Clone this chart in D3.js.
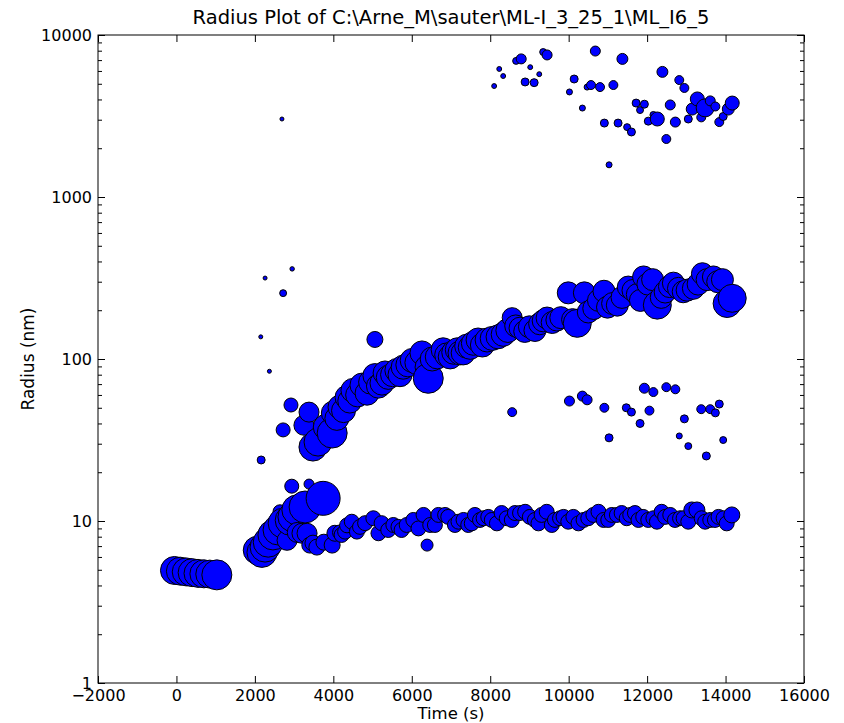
<!DOCTYPE html>
<html>
<head>
<meta charset="utf-8">
<script src="https://cdn.jsdelivr.net/npm/d3@7"></script>
<style>
  body { margin: 0; background: #fff; }
  text { font-family: "DejaVu Sans", sans-serif; fill: #000; }
</style>
</head>
<body>
<div id="chart"></div>
<script>
// Data: [time (s), radius (nm), weight]
const title = 'Radius Plot of C:\\Arne_M\\sauter\\ML-I_3_25_1\\ML_I6_5'
const xTicks = [-2000, 0, 2000, 4000, 6000, 8000, 10000, 12000, 14000, 16000]
const yTicks = [1, 10, 100, 1000, 10000]

const startPopulation = [
  [-50, 4.95, 196], [100, 4.9, 196], [250, 4.85, 196], [400, 4.8, 196],
  [550, 4.75, 196], [700, 4.72, 196], [850, 4.7, 196], [1030, 4.65, 225]
]
const risingPopulation = [
  [2060, 6.6, 196], [2180, 6.4, 225], [2260, 6.9, 225], [2340, 7.4, 225],
  [2460, 8.2, 225], [2590, 8.8, 225], [2640, 11.4, 49], [2720, 9.7, 225],
  [2820, 7.6, 100], [2900, 10.1, 225], [2940, 16.4, 49], [2970, 10.6, 225],
  [3070, 11.7, 225], [3080, 8.5, 100], [3200, 8.4, 100], [3280, 12.2, 256],
  [3330, 8.4, 100], [3380, 16.9, 25], [3400, 7.1, 64], [3480, 7.3, 64],
  [3580, 6.9, 64], [3740, 13.8, 289], [3760, 7.4, 64], [3970, 7.1, 64],
  [4040, 8.4, 64]
]
const plateauPopulation = [
  [4170, 8.5, 56], [4210, 8.2, 56], [4300, 8.6, 56], [4350, 9.4, 56], [4470, 9.9, 56],
  [4600, 8.6, 56], [4680, 9.2, 56], [4810, 9.7, 56], [5020, 10.4, 56], [5150, 8.4, 56],
  [5230, 9.7, 56], [5400, 8.8, 56], [5530, 9.45, 56], [5660, 9.2, 56], [5740, 8.8, 56],
  [5870, 9.45, 56], [6040, 10.15, 56], [6170, 9.0, 56], [6300, 10.9, 56], [6390, 7.1, 36],
  [6470, 9.45, 56], [6590, 9.45, 56], [6680, 10.9, 56], [6850, 10.9, 56], [6930, 10.6, 56],
  [7100, 9.45, 56], [7190, 9.9, 56], [7320, 10.15, 56], [7440, 9.45, 56], [7530, 9.67, 56],
  [7610, 10.9, 56], [7740, 10.15, 56], [7830, 10.4, 56], [7950, 10.6, 56], [8040, 10.15, 56],
  [8170, 9.67, 56], [8290, 11.2, 56], [8420, 10.4, 56], [8550, 10.15, 56], [8630, 11.2, 56],
  [8760, 11.2, 56], [8890, 11.4, 56], [9010, 10.6, 56], [9140, 10.15, 56], [9230, 9.67, 56],
  [9310, 10.9, 56], [9440, 11.4, 56], [9570, 9.45, 56], [9650, 10.15, 56], [9780, 10.4, 56],
  [9870, 10.6, 56], [9990, 9.9, 56], [10120, 10.6, 56], [10250, 9.67, 56], [10380, 10.15, 56],
  [10500, 10.4, 56], [10630, 10.9, 56], [10760, 11.4, 56], [10890, 10.15, 56], [11010, 10.15, 56],
  [11100, 10.9, 56], [11230, 10.9, 56], [11350, 11.2, 56], [11480, 10.4, 56], [11570, 10.9, 56],
  [11690, 11.2, 56], [11780, 10.15, 56], [11900, 10.6, 56], [12030, 10.15, 56], [12160, 10.4, 56],
  [12250, 9.9, 56], [12370, 11.4, 56], [12460, 10.6, 56], [12590, 10.9, 56], [12710, 10.15, 56],
  [12840, 10.4, 56], [12930, 10.4, 56], [13050, 9.9, 56], [13140, 11.7, 64], [13270, 11.7, 64],
  [13390, 10.4, 56], [13480, 9.9, 56], [13610, 10.15, 56], [13730, 10.15, 56], [13820, 10.6, 56],
  [13950, 10.4, 56], [14030, 9.67, 56], [14160, 10.9, 64]
]
const growthPopulation = [
  [2720, 36.5, 49], [2920, 52, 49], [3250, 39, 100], [3380, 47, 100], [3480, 28.6, 196],
  [3610, 30.7, 196], [3820, 38, 169], [3970, 34.9, 225], [4000, 46.4, 144], [4090, 43, 144],
  [4170, 50.5, 144], [4260, 48, 144], [4350, 58, 144], [4420, 55, 144], [4500, 64, 144],
  [4620, 60, 144], [4730, 69, 144], [4860, 61.5, 144], [4950, 72, 144], [5060, 79, 144],
  [5060, 132, 64], [5150, 68, 144], [5240, 71, 144], [5320, 82, 144], [5400, 77, 144],
  [5510, 80, 144], [5620, 85, 144], [5700, 80, 144], [5780, 89, 144], [5900, 92, 144],
  [6010, 98, 144], [6130, 95, 144], [6260, 109, 144], [6390, 89, 144], [6420, 76, 225],
  [6520, 100, 144], [6650, 103, 144], [6800, 114, 144], [6890, 106, 144], [6980, 103, 144],
  [7070, 110, 144], [7160, 114, 144], [7230, 109, 144], [7310, 109, 144], [7400, 120, 144],
  [7490, 118, 144], [7570, 125, 144], [7690, 131, 144], [7800, 122, 144], [7920, 131, 144],
  [8050, 134, 144], [8200, 137, 144], [8330, 142, 144], [8450, 150, 144], [8560, 180, 100],
  [8650, 160, 121], [8760, 155, 121], [8880, 148, 121], [9000, 158, 121], [9140, 150, 121],
  [9260, 165, 121], [9350, 172, 121], [9450, 179, 121], [9580, 168, 121], [9700, 174, 121],
  [9800, 180, 121], [9990, 256, 121], [10100, 175, 121], [10220, 166, 196], [10400, 256, 121],
  [10500, 195, 121], [10640, 205, 121], [10760, 230, 121], [10900, 262, 121], [10990, 209, 121],
  [11120, 220, 121], [11240, 215, 121], [11360, 240, 121], [11520, 278, 121], [11640, 265, 121],
  [11750, 250, 121], [11830, 230, 121], [11910, 321, 121], [12020, 290, 121], [12140, 309, 121],
  [12260, 215, 196], [12360, 240, 121], [12460, 259, 121], [12570, 280, 121], [12670, 294, 121],
  [12800, 273, 121], [12920, 260, 121], [13020, 266, 121], [13180, 273, 121], [13300, 290, 121],
  [13410, 336, 121], [13530, 309, 121], [13690, 321, 121], [13800, 300, 121], [13920, 309, 121],
  [14040, 220, 196], [14170, 237, 196]
]
const middlePopulation = [
  [8560, 47, 20], [10020, 55, 25], [10350, 59, 25], [10470, 56, 25], [10910, 50, 20],
  [11030, 32.6, 16], [11470, 50, 16], [11600, 47, 16], [11820, 40, 16], [11930, 66, 25],
  [12060, 48, 20], [12160, 62.5, 20], [12490, 67, 20], [12720, 65, 20], [12820, 33.5, 9],
  [12950, 42.7, 16], [13050, 29, 12], [13380, 49, 20], [13510, 25.2, 16], [13610, 49, 20],
  [13740, 46.5, 16], [13840, 52.7, 16], [13940, 31.6, 12]
]
const sparsePopulation = [
  [2150, 137, 4], [2160, 23.8, 16], [2260, 316, 4], [2370, 84, 4], [2690, 3030, 4],
  [2720, 255, 12], [2950, 360, 5]
]
const largePopulation = [
  [8100, 4840, 6], [8230, 6170, 6], [8330, 5580, 6], [8660, 6920, 12], [8790, 7120, 25],
  [8890, 5130, 16], [9020, 6330, 6], [9120, 5080, 16], [9250, 5730, 6], [9350, 7850, 12],
  [9450, 7530, 25], [10020, 4450, 9], [10140, 5350, 16], [10350, 3540, 9], [10470, 4770, 9],
  [10570, 4910, 20], [10680, 7960, 25], [10800, 4770, 20], [10910, 2860, 16], [11030, 1580, 9],
  [11140, 4910, 20], [11260, 2860, 16], [11370, 7120, 30], [11490, 2700, 12], [11600, 2520, 16],
  [11720, 3800, 16], [11820, 3440, 12], [11930, 3740, 16], [12030, 2940, 16], [12160, 3210, 12],
  [12260, 3030, 49], [12390, 5920, 30], [12490, 2280, 20], [12590, 3700, 25], [12720, 2900, 25],
  [12820, 5270, 20], [12950, 4710, 20], [13050, 3030, 16], [13150, 3490, 36], [13280, 4030, 49],
  [13380, 3100, 20], [13480, 3550, 81], [13610, 3920, 25], [13740, 3620, 20], [13840, 2900, 20],
  [13940, 3140, 16], [14070, 3490, 36], [14170, 3800, 49]
]

;(({
    selectorForRoot,
    width,
    height,
    frame : { left, right, top, bottom }
  })=>{
  const root = d3.select(selectorForRoot)
  const chart = root.append('svg')
    .attr('width', width)
    .attr('height', height)

  // Scales
  const xScale = d3.scaleLinear().domain([-2000, 16000]).range([left, right])
  const yScale = d3.scaleLog().domain([1, 10000]).range([bottom, top])
  const sizeScale = d3.scaleSqrt().domain([0, 100]).range([0, 10])

  // All points, drawn in time order like the original
  const points = [].concat(
    startPopulation, risingPopulation, plateauPopulation, growthPopulation,
    middlePopulation, sparsePopulation, largePopulation
  ).sort((a, b) => a[0] - b[0])

  chart.append('clipPath').attr('id', 'plot-clip')
    .append('rect')
    .attr('x', left).attr('y', top)
    .attr('width', right - left).attr('height', bottom - top)

  chart.append('g')
    .attr('clip-path', 'url(#plot-clip)')
    .selectAll('circle')
    .data(points)
    .enter()
    .append('circle')
    .attr('cx', d => xScale(d[0]))
    .attr('cy', d => yScale(d[1]))
    .attr('r', d => sizeScale(d[2]))
    .attr('fill', '#0000ff')
    .attr('stroke', '#000')
    .attr('stroke-width', 1)

  // Frame
  chart.append('rect')
    .attr('x', left).attr('y', top)
    .attr('width', right - left).attr('height', bottom - top)
    .attr('fill', 'none')
    .attr('stroke', '#000')
    .attr('stroke-width', 1)

  const fmtX = v => v < 0 ? '\u2212' + Math.abs(v) : String(v)
  const minorY = []
  yTicks.slice(0, -1).forEach(base => {
    for (let k = 2; k < 10; k++) minorY.push(base * k)
  })

  // Axes (ticks point inward)
  const styleAxis = g => {
    g.select('.domain').remove()
    g.selectAll('line').attr('stroke', '#000')
    g.selectAll('text').style('font-size', '16px').style('font-family', '"DejaVu Sans", sans-serif')
  }
  chart.append('g')
    .attr('transform', `translate(0,${bottom})`)
    .call(d3.axisBottom(xScale).tickValues(xTicks).tickFormat(fmtX)
      .tickSizeInner(-7).tickSizeOuter(0).tickPadding(7))
    .call(styleAxis)
  chart.append('g')
    .attr('transform', `translate(0,${top})`)
    .call(d3.axisTop(xScale).tickValues(xTicks).tickFormat('')
      .tickSizeInner(-7).tickSizeOuter(0))
    .call(styleAxis)
  chart.append('g')
    .attr('transform', `translate(${left},0)`)
    .call(d3.axisLeft(yScale).tickValues(yTicks).tickFormat(d3.format('d'))
      .tickSizeInner(-7).tickSizeOuter(0).tickPadding(6))
    .call(styleAxis)
  chart.append('g')
    .attr('transform', `translate(${right},0)`)
    .call(d3.axisRight(yScale).tickValues(yTicks).tickFormat('')
      .tickSizeInner(-7).tickSizeOuter(0))
    .call(styleAxis)
  chart.append('g')
    .attr('transform', `translate(${left},0)`)
    .call(d3.axisLeft(yScale).tickValues(minorY).tickFormat('')
      .tickSizeInner(-4).tickSizeOuter(0))
    .call(styleAxis)
  chart.append('g')
    .attr('transform', `translate(${right},0)`)
    .call(d3.axisRight(yScale).tickValues(minorY).tickFormat('')
      .tickSizeInner(-4).tickSizeOuter(0))
    .call(styleAxis)

  // Titles
  chart.append('text')
    .attr('x', (left + right) / 2)
    .attr('y', 24)
    .attr('text-anchor', 'middle')
    .style('font-size', '19.5px')
    .text(title)
  chart.append('text')
    .attr('x', (left + right) / 2)
    .attr('y', 719)
    .attr('text-anchor', 'middle')
    .style('font-size', '16.5px')
    .text('Time (s)')
  chart.append('text')
    .attr('transform', `translate(34,${(top + bottom) / 2}) rotate(-90)`)
    .attr('text-anchor', 'middle')
    .style('font-size', '17px')
    .text('Radius (nm)')
})({
  selectorForRoot : '#chart',
  width : 844,
  height : 723,
  frame : { left : 98, right : 804, top : 35, bottom : 683 }
})
</script>
</body>
</html>
